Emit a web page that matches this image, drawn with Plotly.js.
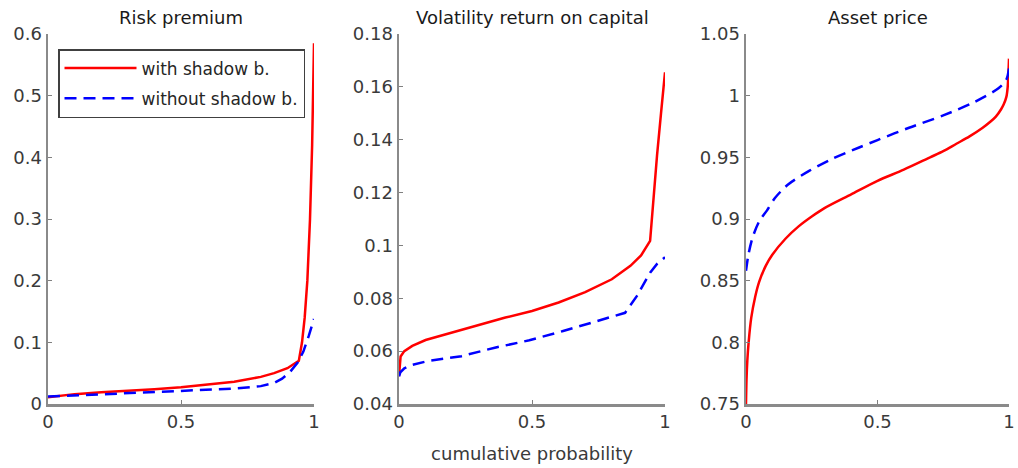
<!DOCTYPE html>
<html><head><meta charset="utf-8">
<script src="https://cdn.plot.ly/plotly-3.0.1.min.js"></script>
<style>html,body{margin:0;padding:0;background:#fff}#chart{width:1018px;height:468px}</style>
</head><body><div id="chart"></div>
<script>
const panelTitles = ["Risk premium", "Volatility return on capital", "Asset price"];
const seriesNames = ["with shadow b.", "without shadow b."];
const xLabel = "cumulative probability";

// Panel 1: Risk premium
const rpWithX = [0, 0.05, 0.1, 0.2, 0.3, 0.4, 0.5, 0.6, 0.7, 0.8, 0.85, 0.9, 0.943, 0.955, 0.965, 0.975, 0.985, 0.993, 1.0];
const rpWithY = [0.011, 0.014, 0.016, 0.019, 0.021, 0.024, 0.027, 0.031, 0.036, 0.044, 0.050, 0.058, 0.070, 0.10, 0.14, 0.20, 0.30, 0.42, 0.585];
const rpWithoutX = [0, 0.1, 0.2, 0.3, 0.4, 0.5, 0.6, 0.7, 0.8, 0.85, 0.88, 0.91, 0.94, 0.96, 0.98, 1.0];
const rpWithoutY = [0.012, 0.014, 0.016, 0.018, 0.020, 0.021, 0.023, 0.025, 0.029, 0.034, 0.041, 0.052, 0.068, 0.085, 0.11, 0.138];

// Panel 2: Volatility return on capital
const volWithX = [0, 0.002, 0.006, 0.02, 0.05, 0.1, 0.2, 0.3, 0.4, 0.5, 0.6, 0.7, 0.8, 0.87, 0.91, 0.944, 0.955, 0.97, 0.985, 1.0];
const volWithY = [0.0505, 0.055, 0.058, 0.060, 0.062, 0.0642, 0.0671, 0.0700, 0.0727, 0.0752, 0.0784, 0.0823, 0.0872, 0.0923, 0.0962, 0.1017, 0.116, 0.134, 0.150, 0.1655];
const volWithoutX = [0, 0.005, 0.02, 0.05, 0.11, 0.235, 0.36, 0.49, 0.617, 0.742, 0.805, 0.85, 0.894, 0.944, 0.97, 1.0];
const volWithoutY = [0.0505, 0.052, 0.0535, 0.0548, 0.0563, 0.0581, 0.0613, 0.0641, 0.0676, 0.0713, 0.0732, 0.0745, 0.0808, 0.0897, 0.093, 0.0955];

// Panel 3: Asset price
const apWithX = [0, 0.002, 0.005, 0.01, 0.02, 0.035, 0.05, 0.075, 0.1, 0.15, 0.2, 0.25, 0.3, 0.4, 0.5, 0.6, 0.7, 0.75, 0.8, 0.85, 0.9, 0.93, 0.95, 0.97, 0.98, 0.99, 0.995, 1.0];
const apWithY = [0.75, 0.77, 0.785, 0.80, 0.82, 0.837, 0.849, 0.862, 0.871, 0.884, 0.894, 0.902, 0.909, 0.920, 0.931, 0.940, 0.950, 0.955, 0.961, 0.967, 0.974, 0.979, 0.983, 0.989, 0.993, 0.999, 1.007, 1.030];
const apWithoutX = [0, 0.01, 0.025, 0.05, 0.08, 0.11, 0.16, 0.24, 0.33, 0.43, 0.5, 0.62, 0.75, 0.87, 0.96, 0.99, 1.0];
const apWithoutY = [0.858, 0.872, 0.885, 0.898, 0.907, 0.917, 0.928, 0.939, 0.949, 0.958, 0.964, 0.974, 0.984, 0.995, 1.006, 1.013, 1.022];

// Tick labels
const xTickVals = [0, 0.5, 1];
const xTickText = ["0", "0.5", "1"];
const y1TickVals = [0, 0.1, 0.2, 0.3, 0.4, 0.5, 0.6];
const y1TickText = ["0", "0.1", "0.2", "0.3", "0.4", "0.5", "0.6"];
const y2TickVals = [0.04, 0.06, 0.08, 0.1, 0.12, 0.14, 0.16, 0.18];
const y2TickText = ["0.04", "0.06", "0.08", "0.1", "0.12", "0.14", "0.16", "0.18"];
const y3TickVals = [0.75, 0.8, 0.85, 0.9, 0.95, 1, 1.05];
const y3TickText = ["0.75", "0.8", "0.85", "0.9", "0.95", "1", "1.05"];

const W = 1018, H = 468;
const FONT = "DejaVu Sans, Arial, sans-serif";
const RED = "#ff0000", BLUE = "#0000ff";
const redLine = {color: RED, width: 2.5};
const blueLine = {color: BLUE, width: 2.5, dash: "12px,7px"};
const redSmooth = {color: RED, width: 2.5, shape: "spline", smoothing: 0.8};
const blueSmooth = {color: BLUE, width: 2.5, dash: "12px,7px", shape: "spline", smoothing: 0.8};

function tr(x, y, name, line, xa, ya, show, grp) {
  return {x: x, y: y, name: name, type: "scatter", mode: "lines", line: line,
          xaxis: xa, yaxis: ya, showlegend: show, legendgroup: grp,
          cliponaxis: false, hoverinfo: "skip"};
}

const data = [
  tr(rpWithX, rpWithY, seriesNames[0], redLine, "x", "y", true, "a"),
  tr(rpWithoutX, rpWithoutY, seriesNames[1], blueLine, "x", "y", true, "b"),
  tr(volWithX, volWithY, seriesNames[0], redLine, "x2", "y2", false, "a"),
  tr(volWithoutX, volWithoutY, seriesNames[1], blueLine, "x2", "y2", false, "b"),
  tr(apWithX, apWithY, seriesNames[0], redSmooth, "x3", "y3", false, "a"),
  tr(apWithoutX, apWithoutY, seriesNames[1], blueSmooth, "x3", "y3", false, "b")
];

const yDom = [(H - 404) / H, (H - 34) / H];
const px = [[48, 314], [399, 665], [746, 1009]];

function xax(i, anchor) {
  return {domain: [px[i][0] / W, px[i][1] / W], anchor: anchor, range: [0, 1],
          tickvals: xTickVals, ticktext: xTickText, ticklabeloverflow: "allow",
          ticks: "inside", ticklen: 4, tickwidth: 1, tickcolor: "#808080",
          showline: true, linecolor: "#8a8a8a", linewidth: 2.5,
          showgrid: false, zeroline: false, fixedrange: true,
          tickfont: {family: FONT, size: 18, color: "#3a3a3a"}};
}
function yax(vals, text, range, anchor) {
  return {domain: yDom, anchor: anchor, range: range,
          tickvals: vals, ticktext: text, ticklabeloverflow: "allow",
          ticks: "inside", ticklen: 4, tickwidth: 1, tickcolor: "#808080",
          showline: true, linecolor: "#8a8a8a", linewidth: 2.5,
          showgrid: false, zeroline: false, fixedrange: true,
          tickfont: {family: FONT, size: 18, color: "#3a3a3a"}};
}

const xaxis2 = xax(1, "y2");
xaxis2.title = {text: xLabel, font: {family: FONT, size: 18, color: "#3a3a3a"}, standoff: 17};

const layout = {
  width: W, height: H,
  margin: {l: 0, r: 0, t: 0, b: 0},
  paper_bgcolor: "#ffffff", plot_bgcolor: "rgba(0,0,0,0)",
  font: {family: FONT, size: 18, color: "#3a3a3a"},
  xaxis: xax(0, "y"), yaxis: yax(y1TickVals, y1TickText, [0, 0.6], "x"),
  xaxis2: xaxis2, yaxis2: yax(y2TickVals, y2TickText, [0.04, 0.18], "x2"),
  xaxis3: xax(2, "y3"), yaxis3: yax(y3TickVals, y3TickText, [0.75, 1.05], "x3"),
  showlegend: true,
  legend: {x: 58 / W, y: 1 - 49 / H, xanchor: "left", yanchor: "top",
           bgcolor: "#ffffff", bordercolor: "#404040", borderwidth: 1.5,
           font: {family: FONT, size: 17, color: "#262626"}, itemwidth: 72,
           tracegroupgap: 5},
  annotations: panelTitles.map((t, i) => ({
    text: t, showarrow: false, xref: (i === 0 ? "x" : "x" + (i + 1)) + " domain", x: 0.5,
    yref: "paper", y: 1 - 18 / H, xanchor: "center", yanchor: "middle",
    font: {family: FONT, size: 18, color: "#1a1a1a"}
  }))
};

Plotly.newPlot("chart", data, layout, {staticPlot: true, displayModeBar: false});
</script>
</body></html>
